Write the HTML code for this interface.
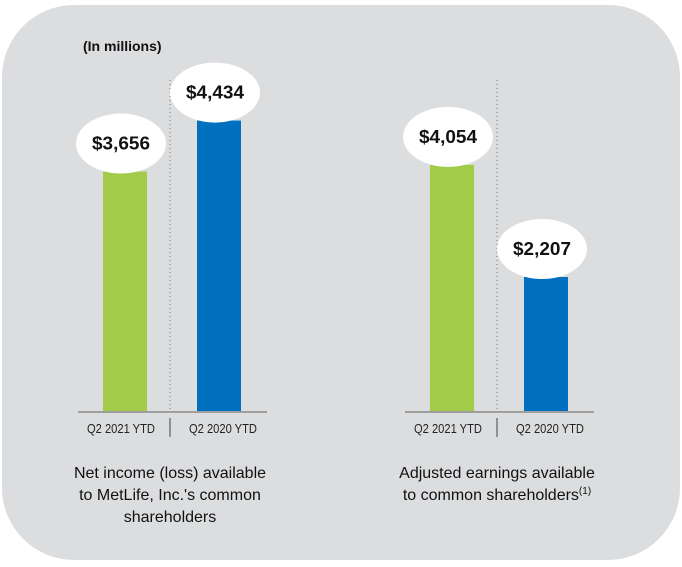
<!DOCTYPE html>
<html><head><meta charset="utf-8"><style>
html,body{margin:0;padding:0;background:#fff;}
svg{display:block;font-family:"Liberation Sans",Arial,sans-serif;}
</style></head><body>
<svg id="c" width="682" height="567" viewBox="0 0 682 567">
<rect x="2" y="5" width="678" height="555" rx="72" ry="72" fill="#dcdddf"/>
<text x="83" y="51" font-size="14" font-weight="bold" fill="#111">(In millions)</text>
<g id="bars"></g>
<g font-size="16" fill="#111" text-anchor="middle">
<text x="170" y="478">Net income (loss) available</text>
<text x="170" y="500">to MetLife, Inc.'s common</text>
<text x="170" y="522">shareholders</text>
</g>
<g font-size="16" fill="#111" text-anchor="middle">
<text x="497" y="478">Adjusted earnings available</text>
<text x="497" y="500">to common shareholders<tspan font-size="10" dy="-6">(1)</tspan></text>
</g>
</svg>
<script>
const categories = ["Q2 2021 YTD", "Q2 2020 YTD"];
const netIncome = [3656, 4434];
const adjustedEarnings = [4054, 2207];
const valueLabels1 = ["$3,656", "$4,434"];
const valueLabels2 = ["$4,054", "$2,207"];
const colors = ["#a2cb4a", "#0070bf"];
const NS = "http://www.w3.org/2000/svg";
const g = document.getElementById("bars");
const base = 411;
function mk(tag, attrs, parent){ const e=document.createElementNS(NS,tag); for(const k in attrs) e.setAttribute(k,attrs[k]); (parent||g).appendChild(e); return e; }
function panel(x0, vals, labels, key, scale){
  const y = v => base - v*scale;
  const sep = x0 + 92;
  const ax = mk("line",{x1:x0,x2:x0+189,y1:base+1,y2:base+1,stroke:"#8a8a8a","stroke-width":1.5});
  
  
  const dl = mk("line",{x1:sep,x2:sep,y1:80,y2:base,stroke:"#777","stroke-width":1,"stroke-dasharray":"1,3"});
  
  
  const tk = mk("line",{x1:sep,x2:sep,y1:418,y2:437,stroke:"#444","stroke-width":1});
  
  
  vals.forEach((v,i)=>{
    const bx = x0 + 25 + i*94;
    const r = mk("rect",{x:bx,y:y(v),width:44,height:base-y(v),fill:colors[i]});
    
    
    const cx = bx+18, cy = y(v)-28;
    const el = mk("ellipse",{cx:cx,cy:cy,rx:45,ry:30,fill:"#fff"});
    
    
    const t = mk("text",{x:cx,y:cy+6,"text-anchor":"middle","font-size":18,"font-weight":"bold",fill:"#111",textLength:58,lengthAdjust:"spacingAndGlyphs"});
    t.textContent = labels[i];
    
    
    const ct = mk("text",{x:bx+22+(i==0?-4:4),y:433,"text-anchor":"middle","font-size":13,fill:"#222",textLength:68,lengthAdjust:"spacingAndGlyphs"});
    ct.textContent = categories[i];
    
    
  });
}
panel(78, netIncome, valueLabels1, "net-income", 0.0655);
panel(405, adjustedEarnings, valueLabels2, "adjusted-earnings", 0.0607);
</script>
</body></html>
